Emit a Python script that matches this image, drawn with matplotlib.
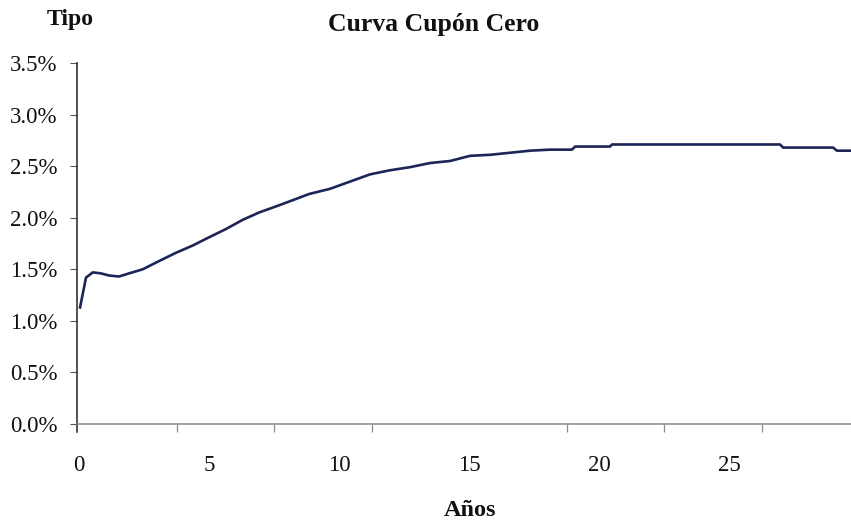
import matplotlib
matplotlib.use("Agg")
import matplotlib.pyplot as plt
from matplotlib.ticker import FixedLocator, FuncFormatter

# Data (years, zero-coupon rate in %)
years = [0.04, 0.27, 0.53, 0.85, 1.15, 1.54, 1.92, 2.45, 3.08, 3.73, 4.37, 5.0,
         5.65, 6.3, 6.92, 7.58, 8.22, 8.85, 9.65, 10.42, 11.19, 11.96, 12.73,
         13.5, 14.27, 15.04, 15.81, 16.58, 17.35, 18.12, 18.96, 19.08, 20.42,
         20.5, 26.96, 27.08, 29.0, 29.15, 29.7]
rates = [1.13, 1.42, 1.47, 1.46, 1.44, 1.43, 1.46, 1.50, 1.58, 1.66, 1.73, 1.81,
         1.89, 1.98, 2.05, 2.11, 2.17, 2.23, 2.28, 2.35, 2.42, 2.46, 2.49,
         2.53, 2.55, 2.60, 2.61, 2.63, 2.65, 2.66, 2.66, 2.69, 2.69,
         2.71, 2.71, 2.68, 2.68, 2.65, 2.65]

x_labels = [0, 5, 10, 15, 20, 25]
x_marks = [3.75, 7.5, 11.25, 15.0, 18.75, 22.5, 26.25]
y_ticks = [0.0, 0.5, 1.0, 1.5, 2.0, 2.5, 3.0, 3.5]

title = "Curva Cupón Cero"
ylabel = "Tipo"
xlabel = "Años"

font = "Liberation Serif"
plt.rcParams['font.family'] = [font, 'DejaVu Serif']

fig = plt.figure(figsize=(8.51, 5.25), dpi=100)
ax = fig.add_axes([77 / 851, 101 / 525, 1 - 77 / 851, (424 - 63) / 525])

ax.plot(years, rates, color="#1b2557", linewidth=1.9, solid_joinstyle="round")

ax.set_xlim(-0.077, 29.69)
ax.set_ylim(0, 3.5)

for s in ["top", "right"]:
    ax.spines[s].set_visible(False)
ax.spines["left"].set_color("#222222")
ax.spines["left"].set_linewidth(1.1)
ax.spines["left"].set_bounds(-0.08, 3.5)
ax.spines["bottom"].set_color("#8a8a8a")
ax.spines["bottom"].set_linewidth(1.1)

ax.yaxis.set_major_locator(FixedLocator(y_ticks))
ax.yaxis.set_major_formatter(FuncFormatter(lambda v, p: f"{v:.1f}%"))
ax.tick_params(axis="y", direction="out", length=5, width=0.8, color="#555555",
               pad=9, labelsize=16.5, labelcolor="#111111")

ax.xaxis.set_major_locator(FixedLocator(x_labels))
ax.xaxis.set_minor_locator(FixedLocator(x_marks))
ax.tick_params(axis="x", which="major", length=0, pad=22, labelsize=16.5,
               labelcolor="#111111")
ax.tick_params(axis="x", which="minor", direction="out", length=6, width=0.9,
               color="#8a8a8a")

fig.text(470 / 851, 1 - 511 / 525, xlabel, ha="center", va="center",
         fontsize=17.5, fontweight="bold", color="#111111")
fig.text(434 / 851, 1 - 24 / 525, title, ha="center", va="center",
         fontsize=18.5, fontweight="bold", color="#111111")
fig.text(70 / 851, 1 - 19 / 525, ylabel, ha="center", va="center",
         fontsize=17, fontweight="bold", color="#111111")

fig.savefig("out.png", dpi=100, facecolor="white")
